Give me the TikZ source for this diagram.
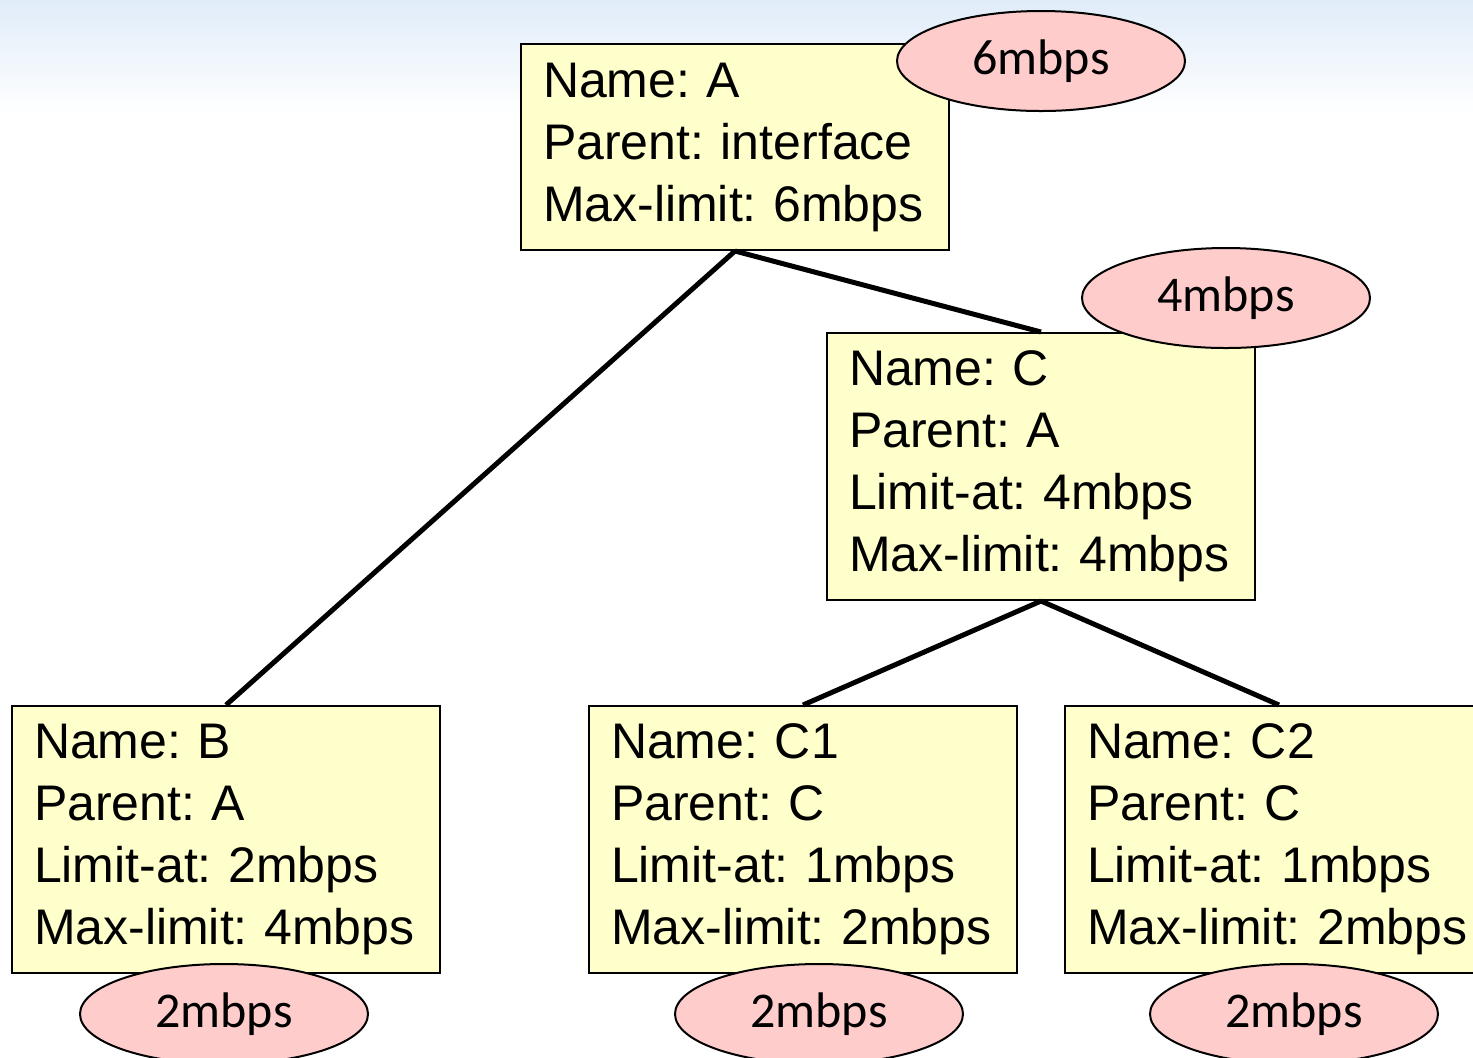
\documentclass[tikz,border=0pt]{standalone}
\usepackage{fontspec}
\setmainfont{Liberation Sans}
\newfontfamily\ratefont{Carlito}
\usetikzlibrary{shapes.geometric, positioning}
\definecolor{boxyellow}{RGB}{255,255,204}
\definecolor{ratepink}{RGB}{255,204,204}
\definecolor{skyblue}{RGB}{224,236,249}

\begin{document}
\begin{tikzpicture}[x=0.5pt, y=-0.5pt,
    queue/.style={draw, fill=boxyellow, line width=1pt, rectangle, align=left, text width=192pt, inner xsep=11pt, font=\fontsize{25}{31}\selectfont\frenchspacing},
    queuethree/.style={queue, minimum height=103pt},
    queuefour/.style={queue, minimum height=133.5pt},
    rate/.style={draw, fill=ratepink, line width=1pt, ellipse, minimum width=144pt, minimum height=50pt, inner sep=0pt, font=\ratefont\fontsize{25}{30}\selectfont},
    link/.style={line width=2.5pt}]
    \useasboundingbox (0,0) rectangle (1473,1057);
    \shade[top color=skyblue, bottom color=white] (0,0) rectangle (1473,115);

    \node[queuethree] (A) at (735,147) {Name: A\\Parent: interface\\Max-limit: 6mbps};
    \node[queuefour] (C) at (1041,466.5) {Name: C\\Parent: A\\Limit-at: 4mbps\\Max-limit: 4mbps};
    \node[queuefour] (B) at (226,839.5) {Name: B\\Parent: A\\Limit-at: 2mbps\\Max-limit: 4mbps};
    \node[queuefour] (C1) [right=73.5pt of B] {Name: C1\\Parent: C\\Limit-at: 1mbps\\Max-limit: 2mbps};
    \node[queuefour] (C2) [right=23pt of C1] {Name: C2\\Parent: C\\Limit-at: 1mbps\\Max-limit: 2mbps};

    \path[link]
    (A.south) edge (B.north)
    (A.south) edge (C.north)
    (C.south) edge (C1.north)
    (C.south) edge (C2.north);

    \node[rate] (rateA) at (1041,61) {6mbps};
    \node[rate] (rateC) at (1226,298) {4mbps};
    \node[rate] (rateB) [below=-5.5pt of B, xshift=-1pt] {2mbps};
    \node[rate] (rateCa) [below=-5.5pt of C1, xshift=8pt] {2mbps};
    \node[rate] (rateCb) [below=-5.5pt of C2, xshift=7.5pt] {2mbps};
\end{tikzpicture}
\end{document}
